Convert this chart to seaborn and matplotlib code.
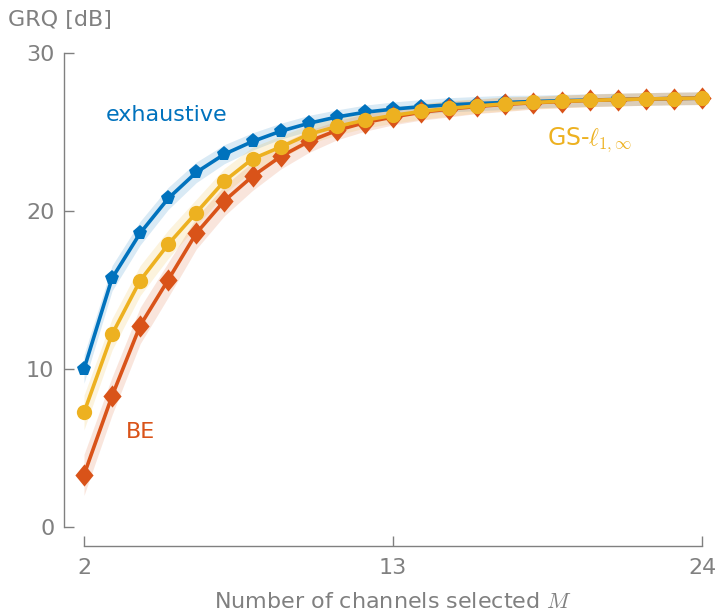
import numpy as np
import pandas as pd
import matplotlib
matplotlib.use("Agg")
import matplotlib.pyplot as plt
from matplotlib.path import Path
import seaborn as sns

# ---- data ----
M = list(range(2, 25))
exhaustive = [10.0, 15.75, 18.6, 20.8, 22.45, 23.6, 24.4, 25.05, 25.55, 25.95, 26.25, 26.45,
              26.6, 26.72, 26.8, 26.87, 26.93, 26.98, 27.02, 27.06, 27.09, 27.12, 27.14]
gs_l1inf = [7.25, 12.2, 15.6, 17.9, 19.9, 21.9, 23.3, 24.05, 24.85, 25.35, 25.75, 26.05,
            26.3, 26.5, 26.65, 26.78, 26.87, 26.94, 27.0, 27.05, 27.09, 27.12, 27.14]
be = [3.3, 8.3, 12.75, 15.65, 18.6, 20.65, 22.2, 23.45, 24.4, 25.1, 25.6, 25.95,
      26.25, 26.45, 26.62, 26.75, 26.85, 26.93, 27.0, 27.05, 27.09, 27.12, 27.14]
# half-widths of shaded bands (dB)
exh_band = [0.9, 0.8, 0.75, 0.7, 0.65, 0.6, 0.55, 0.5, 0.5, 0.45, 0.45, 0.45,
            0.45, 0.45, 0.45, 0.45, 0.4, 0.4, 0.4, 0.4, 0.4, 0.4, 0.4]
gs_band = [1.1, 1.0, 0.95, 0.9, 0.85, 0.8, 0.75, 0.7, 0.6, 0.55, 0.5, 0.5,
           0.5, 0.5, 0.45, 0.45, 0.4, 0.4, 0.4, 0.4, 0.4, 0.4, 0.4]
be_band = [1.3, 1.2, 1.15, 1.1, 1.0, 0.95, 0.9, 0.8, 0.7, 0.6, 0.55, 0.5,
           0.5, 0.5, 0.45, 0.45, 0.4, 0.4, 0.4, 0.4, 0.4, 0.4, 0.4]
xticks = [2, 13, 24]
yticks = [0, 10, 20, 30]

BLUE, ORANGE, YELLOW = "#0072BD", "#D95319", "#EDB120"
GREY = "#808080"

sns.set_theme(style="white")
plt.rcParams['font.family'] = ['DejaVu Sans']
plt.rcParams['mathtext.fontset'] = 'cm'

diamond = Path([(0, 1), (0.82, 0), (0, -1), (-0.82, 0), (0, 1)],
               [Path.MOVETO, Path.LINETO, Path.LINETO, Path.LINETO, Path.CLOSEPOLY])

fig = plt.figure(figsize=(7.15, 6.16), dpi=100)
ax = fig.add_axes([84/715, 1-527/616, (702-84)/715, (527-53)/616])

series = [("exhaustive", exhaustive, exh_band, BLUE, "p", 11),
          ("BE", be, be_band, ORANGE, diamond, 16),
          ("GS", gs_l1inf, gs_band, YELLOW, "o", 11)]

for i, (name, vals, band, col, mk, ms) in enumerate(series):
    v = np.array(vals); b = np.array(band)
    ax.fill_between(M, v - b, v + b, color=col, alpha=0.15, linewidth=0, zorder=1 + i)
for i, (name, vals, band, col, mk, ms) in enumerate(series):
    df = pd.DataFrame({"M": M, "v": vals})
    sns.lineplot(data=df, x="M", y="v", ax=ax, color=col, linewidth=2.6,
                 marker=mk, markersize=ms, markeredgewidth=0, clip_on=False, zorder=5 + i)

ax.set_xlim(2, 24)
ax.set_ylim(0, 30)
ax.set_xticks(xticks)
ax.set_yticks(yticks)
for s in ["top", "right"]:
    ax.spines[s].set_visible(False)
ax.spines["left"].set_position(("outward", 14.4))
ax.spines["bottom"].set_position(("outward", 13.5))
for s in ["left", "bottom"]:
    ax.spines[s].set_color(GREY)
    ax.spines[s].set_linewidth(1.0)
ax.tick_params(direction="in", length=7, width=1.0, color=GREY, labelcolor=GREY,
               labelsize=16, left=True, bottom=True)
ax.tick_params(axis="x", pad=9)
ax.tick_params(axis="y", pad=7)
ax.set_xlabel("Number of channels selected $M$", color=GREY, fontsize=16, labelpad=10)
ax.set_ylabel("")
fig.text(8/715, 1-20/616, "GRQ [dB]", color=GREY, fontsize=16, ha="left", va="center")

ax.text(4.95, 26.1, "exhaustive", color=BLUE, fontsize=16, ha="center", va="center")
ax.text(4.0, 6.0, "BE", color=ORANGE, fontsize=16, ha="center", va="center")
ax.text(20.0, 24.5, r"GS-$\ell_{1,\infty}$", color=YELLOW, fontsize=17, ha="center", va="center")

fig.savefig("out.png", dpi=100)
